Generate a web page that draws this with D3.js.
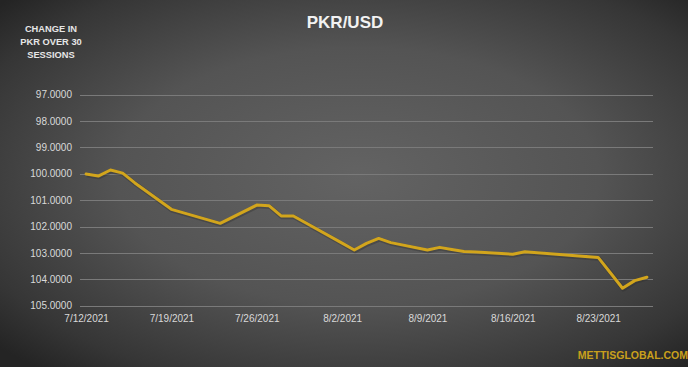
<!DOCTYPE html>
<html>
<head>
<meta charset="utf-8">
<script src="https://cdn.jsdelivr.net/npm/d3@7"></script>
<style>
  html, body { margin: 0; padding: 0; background: #fff; }
  svg { display: block; }
</style>
</head>
<body>
<div id="chart"></div>
<script>
// trading sessions (PKR per USD)
var dates = ["2021-07-12","2021-07-13","2021-07-14","2021-07-15","2021-07-16",
  "2021-07-19","2021-07-23","2021-07-26","2021-07-27","2021-07-28","2021-07-29","2021-07-30",
  "2021-08-02","2021-08-03","2021-08-04","2021-08-05","2021-08-06",
  "2021-08-09","2021-08-10","2021-08-11","2021-08-12","2021-08-13",
  "2021-08-16","2021-08-17","2021-08-18",
  "2021-08-23","2021-08-24","2021-08-25","2021-08-26","2021-08-27"];
var rates = [100.01, 100.09, 99.86, 99.98, 100.35,
  101.35, 101.88, 101.19, 101.21, 101.60, 101.60, 101.86,
  102.63, 102.89, 102.64, 102.45, 102.61,
  102.89, 102.79, 102.87, 102.95, 102.97,
  103.05, 102.96, 102.99,
  103.17, 103.75, 104.34, 104.05, 103.92];
var yTicks = [97, 98, 99, 100, 101, 102, 103, 104, 105];
var xTicks = ["2021-07-12","2021-07-19","2021-07-26","2021-08-02","2021-08-09","2021-08-16","2021-08-23"];

var W = 693, H = 374;
var parse = d3.timeParse("%Y-%m-%d");
var fmt = d3.timeFormat("%-m/%-d/%Y");

var svg = d3.select("#chart").append("svg")
  .attr("width", W)
  .attr("height", H);

var defs = svg.append("defs");
var grad = defs.append("radialGradient")
  .attr("id", "bg")
  .attr("cx", "52%").attr("cy", "48%").attr("r", "70%");
grad.append("stop").attr("offset", "0%").attr("stop-color", "#636363");
grad.append("stop").attr("offset", "50%").attr("stop-color", "#545454");
grad.append("stop").attr("offset", "85%").attr("stop-color", "#363636");
grad.append("stop").attr("offset", "100%").attr("stop-color", "#242424");

svg.append("rect")
  .attr("x", 0).attr("y", 0)
  .attr("width", 688).attr("height", 367)
  .attr("fill", "url(#bg)");

var x = d3.scaleTime()
  .domain([d3.timeHour.offset(parse("2021-07-12"), -12), d3.timeHour.offset(parse("2021-08-27"), 12)])
  .range([80, 653]);

var y = d3.scaleLinear()
  .domain([97, 105])
  .range([94.5, 305.7]);

// gridlines
svg.append("g")
  .selectAll("line")
  .data(yTicks)
  .enter()
  .append("line")
  .attr("x1", 80)
  .attr("x2", 653)
  .attr("y1", function(d){ return Math.round(y(d)) + 0.5; })
  .attr("y2", function(d){ return Math.round(y(d)) + 0.5; })
  .attr("stroke", "#7a7a7a")
  .attr("stroke-width", 1);

// y axis labels
var yAxis = d3.axisLeft(y)
  .tickValues(yTicks)
  .tickSize(0)
  .tickPadding(0)
  .tickFormat(d3.format(".4f"));

svg.append("g")
  .attr("transform", "translate(72,0)")
  .call(yAxis)
  .call(function(g){ g.select(".domain").remove(); })
  .selectAll("text")
  .attr("fill", "#d9d9d9")
  .style("font-family", "Liberation Sans, Arial, sans-serif")
  .style("font-size", "10px");

// x axis labels
var xAxis = d3.axisBottom(x)
  .tickValues(xTicks.map(parse))
  .tickSize(0)
  .tickPadding(0)
  .tickFormat(fmt);

svg.append("g")
  .attr("transform", "translate(0,315)")
  .call(xAxis)
  .call(function(g){ g.select(".domain").remove(); })
  .selectAll("text")
  .attr("fill", "#d9d9d9")
  .style("font-family", "Liberation Sans, Arial, sans-serif")
  .style("font-size", "10px");

// the line
var line = d3.line()
  .x(function(d, i){ return x(parse(dates[i])); })
  .y(function(d){ return y(d); });

svg.append("path")
  .datum(rates)
  .attr("d", line)
  .attr("fill", "none")
  .attr("stroke", "#2a2a2a")
  .attr("stroke-opacity", 0.35)
  .attr("stroke-width", 4.5)
  .attr("stroke-linejoin", "round")
  .attr("transform", "translate(0.8,1)");

svg.append("path")
  .datum(rates)
  .attr("d", line)
  .attr("fill", "none")
  .attr("stroke", "#d2a51c")
  .attr("stroke-width", 3)
  .attr("stroke-linejoin", "round")
  .attr("stroke-linecap", "round");

// title
svg.append("text")
  .attr("x", 345)
  .attr("y", 28)
  .attr("text-anchor", "middle")
  .attr("fill", "#f2f2f2")
  .style("font-family", "Liberation Sans, Arial, sans-serif")
  .style("font-weight", "bold")
  .style("font-size", "17px")
  .text("PKR/USD");

// axis note
var note = ["CHANGE IN", "PKR OVER 30", "SESSIONS"];
svg.append("g")
  .selectAll("text")
  .data(note)
  .enter()
  .append("text")
  .attr("x", 51)
  .attr("y", function(d, i){ return 32 + i * 13; })
  .attr("text-anchor", "middle")
  .attr("fill", "#e6e6e6")
  .style("font-family", "Liberation Sans, Arial, sans-serif")
  .style("font-weight", "bold")
  .style("font-size", "9.3px")
  .text(function(d){ return d; });

// source
svg.append("text")
  .attr("x", 688)
  .attr("y", 359)
  .attr("text-anchor", "end")
  .attr("fill", "#c9a01c")
  .style("font-family", "Liberation Sans, Arial, sans-serif")
  .style("font-weight", "bold")
  .style("font-size", "10.5px")
  .text("METTISGLOBAL.COM");
</script>
</body>
</html>
